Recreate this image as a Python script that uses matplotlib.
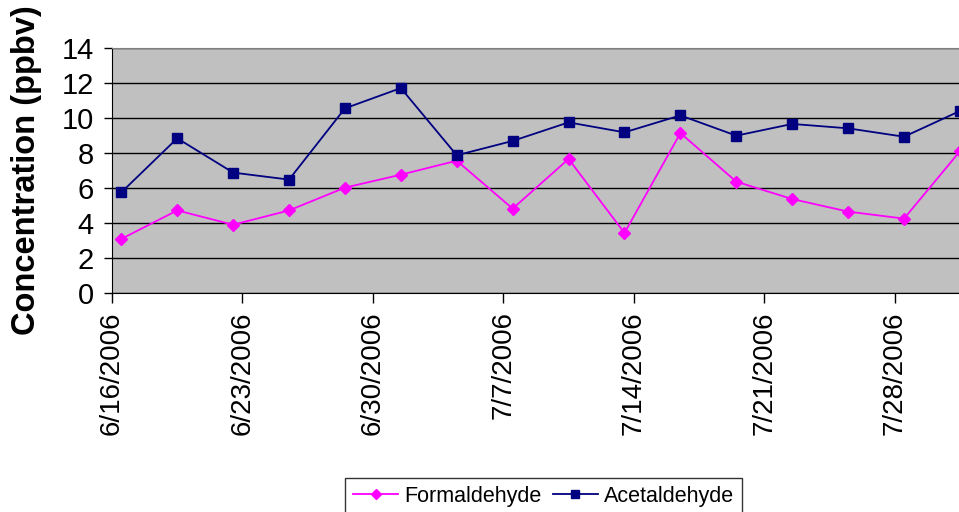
import matplotlib
matplotlib.use('Agg')
import matplotlib.pyplot as plt
import pandas as pd

# sampling dates (every 3 days)
dates = ['6/16/2006', '6/19/2006', '6/22/2006', '6/25/2006', '6/28/2006', '7/1/2006',
         '7/4/2006', '7/7/2006', '7/10/2006', '7/13/2006', '7/16/2006', '7/19/2006',
         '7/22/2006', '7/25/2006', '7/28/2006', '7/31/2006']
formaldehyde = [3.09, 4.72, 3.90, 4.72, 6.02, 6.76, 7.56, 4.82, 7.66, 3.43, 9.14,
                6.36, 5.37, 4.65, 4.25, 8.10]
acetaldehyde = [5.75, 8.84, 6.88, 6.48, 10.55, 11.71, 7.87, 8.69, 9.75, 9.18, 10.15,
                8.99, 9.66, 9.41, 8.93, 10.40]
tick_labels = ['6/16/2006', '6/23/2006', '6/30/2006', '7/7/2006', '7/14/2006',
               '7/21/2006', '7/28/2006']
y_ticks = [0, 2, 4, 6, 8, 10, 12, 14]

plt.rcParams['font.family'] = ['Liberation Sans', 'DejaVu Sans']

# excel date axis puts each point in the middle of its day
x = pd.to_datetime(dates, format='%m/%d/%Y') + pd.Timedelta(hours=12)
ticks = pd.to_datetime(tick_labels, format='%m/%d/%Y')

fig = plt.figure(figsize=(9.59, 5.12), dpi=100)
ax = fig.add_axes([112 / 959, 1 - 293 / 512, 1 - 112 / 959, 245 / 512])
ax.set_facecolor('#C0C0C0')

ax.plot(x, formaldehyde, color='#FF00FF', marker='D', markersize=6.5, lw=1.3,
        label='Formaldehyde')
ax.plot(x, acetaldehyde, color='#000080', marker='s', markersize=6.5, lw=1.3,
        label='Acetaldehyde')

start = ticks[0]
ax.set_xlim(start, start + pd.Timedelta(days=45.45))
ax.set_ylim(0, 14)
ax.set_yticks(y_ticks)
ax.set_xticks(ticks)
ax.set_xticklabels(tick_labels, rotation=90, fontsize=20)
ax.tick_params(axis='y', labelsize=21, length=6, width=1, direction='out', pad=7)
ax.tick_params(axis='x', length=7, width=1, direction='out', pad=6)
ax.grid(axis='y', color='black', lw=1)
ax.set_axisbelow(True)

ax.spines['top'].set_color('#808080')
ax.spines['right'].set_visible(False)
ax.spines['left'].set_color('black')
ax.spines['bottom'].set_color('black')

ax.set_ylabel('Concentration (ppbv)', fontsize=23.5, fontweight='bold', labelpad=14)

leg = fig.legend(loc='lower center', bbox_to_anchor=(0.567, -0.025), ncol=2, fontsize=15.5,
                 frameon=True, fancybox=False, edgecolor='black', handlelength=2.1,
                 columnspacing=0.5, handletextpad=0.3, borderpad=0.35)
leg.get_frame().set_linewidth(1)
for h in leg.legend_handles:
    h.set_markersize(5.5)

fig.savefig('out.png', dpi=100)
